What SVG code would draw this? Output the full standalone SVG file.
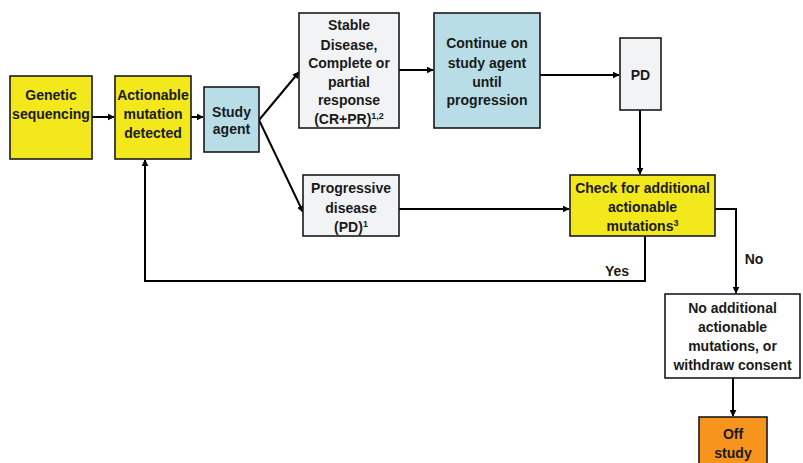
<svg xmlns="http://www.w3.org/2000/svg" width="803" height="463" viewBox="0 0 803 463">
<defs>
<marker id="ah" viewBox="0 0 10 10" refX="9" refY="5" markerWidth="7" markerHeight="7" orient="auto" markerUnits="userSpaceOnUse"><path d="M0,0 L10,5 L0,10 z" fill="#000"/></marker>
<style>
.box{stroke:#1a1a1a;stroke-width:1.6}
.y{fill:#f2e81c}.b{fill:#b8dde7}.g{fill:#f2f3f5}.w{fill:#fff}.o{fill:#f7941d}
text{font-family:"Liberation Sans",Arial,sans-serif;font-weight:bold;font-size:14px;fill:#1a1a1a;text-anchor:middle}
.c{fill:none;stroke:#000;stroke-width:2}
.sup{font-size:9px}
</style>
</defs>
<rect width="803" height="463" fill="#fff"/>
<g id="connectors">
<line class="c" x1="92" y1="117" x2="114" y2="117" marker-end="url(#ah)"/>
<line class="c" x1="191" y1="117" x2="203" y2="117" marker-end="url(#ah)"/>
<line class="c" x1="259" y1="120" x2="299" y2="72" marker-end="url(#ah)"/>
<line class="c" x1="259" y1="120" x2="303" y2="212" marker-end="url(#ah)"/>
<line class="c" x1="399" y1="70" x2="433" y2="70" marker-end="url(#ah)"/>
<line class="c" x1="540" y1="75" x2="619" y2="75" marker-end="url(#ah)"/>
<line class="c" x1="640" y1="110" x2="640" y2="174" marker-end="url(#ah)"/>
<line class="c" x1="399" y1="209" x2="569" y2="209" marker-end="url(#ah)"/>
<polyline class="c" points="645,236 645,281 145,281 145,160" marker-end="url(#ah)"/>
<polyline class="c" points="715,209 736,209 736,293" marker-end="url(#ah)"/>
<line class="c" x1="733" y1="378" x2="733" y2="416" marker-end="url(#ah)"/>
<text x="617" y="276">Yes</text>
<text x="754" y="264">No</text>
</g>
<g id="genetic"><rect class="box y" x="10" y="76" width="82" height="83"/><text x="51" y="100">Genetic</text><text x="51" y="119">sequencing</text></g>
<g id="actionable"><rect class="box y" x="115" y="76" width="76" height="83"/><text x="153" y="100">Actionable</text><text x="153" y="119">mutation</text><text x="153" y="138">detected</text></g>
<g id="study"><rect class="box b" x="204" y="87" width="55" height="65"/><text x="231.5" y="117">Study</text><text x="231.5" y="134">agent</text></g>
<g id="stable"><rect class="box g" x="299" y="13" width="100" height="115"/><text x="349" y="30">Stable</text><text x="349" y="50">Disease,</text><text x="349" y="68">Complete or</text><text x="349" y="87">partial</text><text x="349" y="105">response</text><text x="349" y="124">(CR+PR)<tspan class="sup" dy="-5">1,2</tspan></text></g>
<g id="continue"><rect class="box b" x="434" y="13" width="106" height="115"/><text x="487" y="48">Continue on</text><text x="487" y="68">study agent</text><text x="487" y="87">until</text><text x="487" y="105">progression</text></g>
<g id="pd"><rect class="box g" x="620" y="38" width="41" height="72"/><text x="640.5" y="80">PD</text></g>
<g id="progressive"><rect class="box g" x="303" y="175" width="96" height="61"/><text x="351" y="193">Progressive</text><text x="351" y="213">disease</text><text x="351" y="232">(PD)<tspan class="sup" dy="-5">1</tspan></text></g>
<g id="check"><rect class="box y" x="570" y="175" width="145" height="61"/><text x="642.5" y="193">Check for additional</text><text x="642.5" y="212">actionable</text><text x="642.5" y="231">mutations<tspan class="sup" dy="-5">3</tspan></text></g>
<g id="noadd"><rect class="box w" x="665" y="294" width="135" height="84"/><text x="732.5" y="313">No additional</text><text x="732.5" y="332">actionable</text><text x="732.5" y="351">mutations, or</text><text x="732.5" y="370">withdraw consent</text></g>
<g id="off"><rect class="box o" x="699" y="417" width="68" height="50"/><text x="733" y="439">Off</text><text x="733" y="458">study</text></g>
</svg>
